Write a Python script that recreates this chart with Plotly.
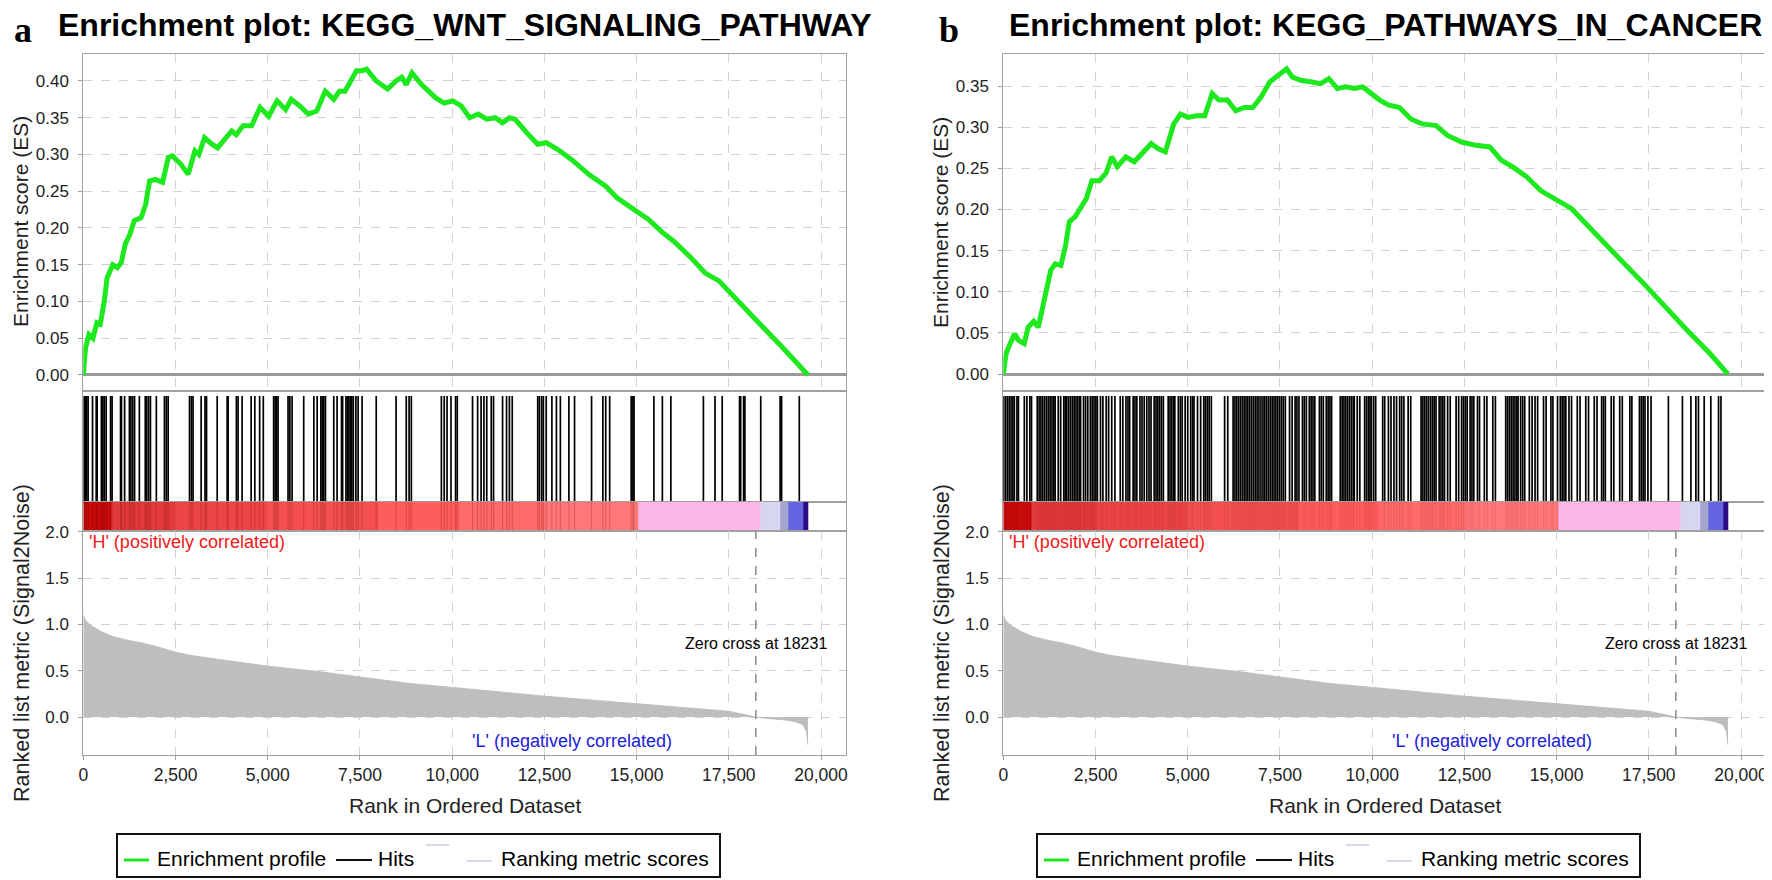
import plotly.graph_objects as go

W, H = 1772, 880
PAGE_MARGIN = 8  # the browser's default body margin shifts the figure by this much

# ------------------------------------------------------------------ data
rank_ticks = [0, 2500, 5000, 7500, 10000, 12500, 15000, 17500, 20000]
rank_max = 20676
n_genes = 19645
zero_cross = 18231

# ranked list metric (Signal2Noise)
metric_rank = [0, 50, 200, 500, 800, 1200, 1600, 2000, 2500, 3000, 3900, 5000,
               6400, 7500, 8800, 10000, 11300, 12500, 13900, 15000, 16400, 17500,
               18231, 18400, 19000, 19300, 19500, 19600, 19645]
metric_value = [1.10, 1.05, 0.99, 0.92, 0.87, 0.83, 0.80, 0.76, 0.70, 0.66, 0.61, 0.55,
                0.49, 0.43, 0.365, 0.32, 0.27, 0.226, 0.18, 0.146, 0.10, 0.062,
                0.0, -0.01, -0.03, -0.05, -0.08, -0.15, -0.30]

# colour bands of the ranked-list heat strip
band_edges = [0, 750, 2500, 5000, 8000, 10200, 12500, 15040, 18350, 18890, 19100, 19510, 19645]
band_colors = ["#c80a0a", "#e23a3a", "#ec4545", "#f45050", "#ff5c5c", "#ff6a6a",
               "#ff7878", "#f9b6e6", "#d6d6f0", "#a4a4cc", "#6464e0", "#2c0c84"]

# panel a: KEGG_WNT_SIGNALING_PATHWAY
es_a_rank = [0, 61, 154, 261, 369, 461, 568, 645, 799, 922, 1029, 1137, 1260, 1382, 1567,
             1690, 1797, 1951, 2150, 2304, 2412, 2642, 2842, 3026, 3133, 3287, 3487, 3640,
             3871, 4024, 4147, 4332, 4562, 4792, 5023, 5253, 5484, 5637, 5868, 6098, 6328,
             6559, 6789, 6943, 7096, 7250, 7404, 7557, 7680, 7941, 8248, 8479, 8633, 8755,
             8909, 9170, 9554, 9784, 10015, 10245, 10476, 10706, 10937, 11167, 11366,
             11551, 11704, 12012, 12319, 12549, 12856, 13240, 13701, 14162, 14469, 14930,
             15314, 15698, 16005, 16466, 16850, 17234, 17695, 18309, 18924, 19384, 19645]
es_a_value = [0.0, 0.037, 0.055, 0.05, 0.071, 0.069, 0.10, 0.132, 0.15, 0.146, 0.153, 0.178,
              0.191, 0.21, 0.214, 0.232, 0.264, 0.266, 0.262, 0.296, 0.298, 0.287, 0.273,
              0.305, 0.30, 0.323, 0.314, 0.309, 0.323, 0.332, 0.327, 0.339, 0.339, 0.364,
              0.352, 0.373, 0.361, 0.375, 0.366, 0.355, 0.359, 0.386, 0.375, 0.386, 0.386,
              0.40, 0.414, 0.414, 0.416, 0.40, 0.389, 0.40, 0.405, 0.395, 0.411, 0.395,
              0.377, 0.37, 0.373, 0.366, 0.35, 0.355, 0.348, 0.35, 0.343, 0.35, 0.348,
              0.33, 0.314, 0.316, 0.307, 0.293, 0.273, 0.257, 0.241, 0.225, 0.212, 0.194,
              0.182, 0.16, 0.139, 0.128, 0.103, 0.071, 0.039, 0.0145, 0.0]
hits_a = [20, 50, 90, 130, 250, 350, 375, 490, 530, 570, 620, 740, 780, 1010, 1035, 1120,
          1250, 1290, 1340, 1390, 1520, 1680, 1720, 1770, 1820, 1980, 2200, 2250, 2300,
          2880, 2930, 2975, 3195, 3300, 3340, 3630, 3900, 3925, 4150, 4195, 4305, 4550,
          4650, 4780, 4880, 5160, 5200, 5240, 5280, 5550, 5600, 5660, 5975, 6250, 6340,
          6440, 6480, 6520, 6565, 6790, 6880, 7000, 7030, 7120, 7160, 7200, 7240, 7280,
          7320, 7390, 7450, 7557, 7941, 8479, 8755, 8832, 8893, 9707, 9784, 9861, 9968,
          10092, 10138, 10552, 10690, 10783, 10860, 10937, 11059, 11121, 11366, 11474,
          11551, 11628, 12319, 12365, 12426, 12472, 12549, 12703, 12826, 12933, 13164,
          13317, 13778, 14085, 14162, 14269, 14853, 14899, 14930, 15468, 15698, 15928,
          16810, 17125, 17320, 17790, 17820, 17900, 17935, 18365, 18890, 18930, 19410]
es_a_ticks = [0.0, 0.05, 0.10, 0.15, 0.20, 0.25, 0.30, 0.35, 0.40]

# panel b: KEGG_PATHWAYS_IN_CANCER
es_b_rank = [0, 77, 184, 306, 413, 566, 673, 826, 949, 1071, 1178, 1285, 1408, 1561, 1683,
             1790, 1943, 2096, 2249, 2402, 2601, 2785, 2938, 3091, 3320, 3550, 3779, 4009,
             4192, 4391, 4621, 4804, 5003, 5233, 5462, 5661, 5845, 6074, 6304, 6533, 6763,
             6992, 7222, 7451, 7681, 7834, 8063, 8369, 8599, 8828, 9058, 9287, 9517, 9746,
             9976, 10205, 10435, 10741, 11047, 11353, 11735, 12041, 12424, 12806, 13189,
             13495, 13801, 14183, 14566, 15025, 15407, 15790, 16249, 16708, 17320, 17932,
             18544, 19156, 19645]
es_b_value = [0.0, 0.025, 0.037, 0.049, 0.041, 0.037, 0.057, 0.064, 0.057, 0.082, 0.11,
              0.126, 0.134, 0.132, 0.155, 0.185, 0.191, 0.203, 0.213, 0.235, 0.235, 0.244,
              0.264, 0.252, 0.264, 0.258, 0.27, 0.28, 0.274, 0.27, 0.304, 0.316, 0.312,
              0.314, 0.314, 0.341, 0.333, 0.333, 0.32, 0.324, 0.324, 0.337, 0.355, 0.363,
              0.371, 0.361, 0.357, 0.355, 0.353, 0.359, 0.347, 0.349, 0.347, 0.349, 0.341,
              0.333, 0.327, 0.324, 0.31, 0.304, 0.302, 0.29, 0.282, 0.278, 0.276, 0.26,
              0.252, 0.24, 0.223, 0.211, 0.201, 0.183, 0.161, 0.14, 0.112, 0.082, 0.053,
              0.025, 0.0]
hits_b = [10, 60, 110, 160, 210, 260, 300, 370, 410, 570, 640, 720, 765,
          920, 970, 1020, 1070, 1120, 1170, 1220, 1270, 1320, 1370, 1405, 1490, 1555,
          1640, 1680, 1720, 1770, 1820, 1870, 1920, 1970, 2020, 2070, 2095, 2175, 2230,
          2290, 2360, 2410, 2460, 2510, 2550, 2635, 2700, 2790, 2855, 2940, 3025, 3170,
          3240, 3325, 3380, 3425, 3520, 3570, 3620, 3705, 3760, 3820, 3890, 3950, 4005,
          4090, 4140, 4190, 4240, 4290, 4340, 4470, 4520, 4570, 4620, 4650, 4745, 4800,
          4850, 4930, 5000, 5080, 5130, 5170, 5265, 5350, 5435, 5480, 5530, 5580, 5640,
          6000, 6085, 6230, 6280, 6330, 6380, 6430, 6480, 6530, 6580, 6630, 6680, 6730,
          6780, 6830, 6880, 6930, 6985, 7040, 7090, 7140, 7190, 7240, 7290, 7340, 7390,
          7440, 7490, 7540, 7590, 7645, 7760, 7830, 7910, 7960, 8015, 8110, 8160, 8215,
          8295, 8345, 8395, 8445, 8570, 8620, 8675, 8755, 8805, 8855, 8900, 9135, 9185,
          9235, 9285, 9335, 9385, 9435, 9485, 9515, 9595, 9665, 9795, 9845, 9895, 9940,
          9980, 10040, 10095, 10285, 10340, 10440, 10510, 10590, 10660, 10745, 10800,
          10860, 10975, 11045, 11325, 11375, 11425, 11475, 11525, 11580, 11630, 11680,
          11730, 11815, 11865, 11915, 11960, 12045, 12115, 12275, 12345, 12425, 12475,
          12525, 12575, 12655, 12705, 12755, 12855, 12910, 13040, 13110, 13270, 13340,
          13620, 13670, 13720, 13770, 13820, 13870, 13920, 13955, 14025, 14080, 14135,
          14260, 14335, 14415, 14485, 14645, 14715, 14845, 14900, 15025, 15100, 15150,
          15200, 15250, 15335, 15405, 15560, 15635, 15790, 15865, 16020, 16095, 16220,
          16270, 16320, 16480, 16550, 16710, 16780, 16985, 17040, 17245, 17295, 17345,
          17395, 17475, 17560, 18030, 18410, 18640, 18775, 18845, 19000, 19180, 19390, 19455]
es_b_ticks = [0.0, 0.05, 0.10, 0.15, 0.20, 0.25, 0.30, 0.35]

metric_ticks = [0.0, 0.5, 1.0, 1.5, 2.0]

panels = [
    dict(dx=0, label="a", label_x=22.5, stripe_alpha=0.22,
         title="Enrichment plot: KEGG_WNT_SIGNALING_PATHWAY",
         es_r=es_a_rank, es_v=es_a_value, hits=hits_a,
         es_range=[-0.0218, 0.4367], es_ticks=es_a_ticks),
    dict(dx=920, label="b", label_x=949, stripe_alpha=0.10,
         title="Enrichment plot: KEGG_PATHWAYS_IN_CANCER",
         es_r=es_b_rank, es_v=es_b_value, hits=hits_b,
         es_range=[-0.0206, 0.389], es_ticks=es_b_ticks),
]

# ------------------------------------------------------------------ helpers
def fx(p):
    return (p - PAGE_MARGIN) / W


def fy(p):
    return 1 - (p - PAGE_MARGIN) / H


def ax_id(letter, i):
    return letter if i == 1 else f"{letter}{i}"


def ax_key(letter, i):
    return f"{letter}axis" if i == 1 else f"{letter}axis{i}"


def note(px, py, text, size, color="black", xanchor="center", family=None, **kw):
    return dict(x=fx(px), y=fy(py), xref="paper", yref="paper", xanchor=xanchor,
                yanchor="middle", text=text, showarrow=False,
                font=dict(size=size, color=color, family=family or FONT), **kw)


FONT = "Liberation Sans, Arial, sans-serif"
GREEN = "#1ee81e"
BORDER = "#a0a0a0"
GRID = "#d2d2d2"

fig = go.Figure()
layout = dict(width=W, height=H, margin=dict(l=0, r=0, t=0, b=0, autoexpand=False),
              paper_bgcolor="white", plot_bgcolor="white", showlegend=False,
              font=dict(family=FONT, color="black"))
annotations = []
shapes = []

# vertical layout of the four stacked panels (pixel rows)
ES_TOP, ES_BOT = 54, 391
HIT_BOT = 502
HEAT_BOT = 531
MET_BOT = 755

nb = len(band_colors)
heat_scale = [[j / (nb - 1), c] for j, c in enumerate(band_colors)]

for k, p in enumerate(panels):
    dx = p["dx"]
    x_dom = [fx(83.3 + dx), fx(846 + dx)]
    base = 4 * k + 1
    ids = list(range(base, base + 4))
    xs = [ax_id("x", i) for i in ids]
    ys = [ax_id("y", i) for i in ids]
    doms = [[fy(ES_BOT), fy(ES_TOP)], [fy(HIT_BOT), fy(ES_BOT)],
            [fy(HEAT_BOT), fy(HIT_BOT)], [fy(MET_BOT), fy(HEAT_BOT)]]

    # --- enrichment score
    fig.add_trace(go.Scatter(x=p["es_r"], y=p["es_v"], mode="lines",
                             line=dict(color=GREEN, width=5),
                             xaxis=xs[0], yaxis=ys[0], hoverinfo="skip"))
    # --- hits
    hx, hy = [], []
    for h in p["hits"]:
        hx += [h, h, None]
        hy += [0, 0.955, None]
    fig.add_trace(go.Scatter(x=hx, y=hy, mode="lines",
                             line=dict(color="black", width=1.7),
                             xaxis=xs[1], yaxis=ys[1], hoverinfo="skip"))
    # --- heat strip
    fig.add_trace(go.Heatmap(x=band_edges, y=[0, 1], z=[list(range(nb))],
                             colorscale=heat_scale, zmin=0, zmax=nb - 1,
                             showscale=False, hoverinfo="skip",
                             xaxis=xs[2], yaxis=ys[2]))
    sx, sy = [], []
    for h in p["hits"]:
        if h < band_edges[7]:
            sx += [h, h, None]
            sy += [0, 1, None]
    fig.add_trace(go.Scatter(x=sx, y=sy, mode="lines",
                             line=dict(color=f"rgba(110,0,0,{p['stripe_alpha']})", width=1.2),
                             xaxis=xs[2], yaxis=ys[2], hoverinfo="skip"))
    # --- ranked list metric
    fig.add_trace(go.Scatter(x=metric_rank, y=metric_value, mode="lines",
                             fill="tozeroy", fillcolor="#bebebe",
                             line=dict(color="#bebebe", width=1),
                             xaxis=xs[3], yaxis=ys[3], hoverinfo="skip"))

    common_x = dict(domain=x_dom, range=[0, rank_max], showline=True, mirror=True,
                    linecolor=BORDER, linewidth=1, zeroline=False, tickvals=rank_ticks,
                    automargin=False)
    layout[ax_key("x", ids[0])] = dict(common_x, anchor=ys[0], showgrid=True,
                                       gridcolor=GRID, griddash="dash",
                                       showticklabels=False, ticks="")
    layout[ax_key("y", ids[0])] = dict(domain=doms[0], range=p["es_range"], anchor=xs[0],
                                       tickvals=p["es_ticks"], tickformat=".2f",
                                       ticks="outside", ticklen=4, tickcolor=BORDER,
                                       tickfont=dict(size=17, color="#222"),
                                       ticklabelstandoff=6, automargin=False,
                                       showgrid=True, gridcolor=GRID, griddash="dash",
                                       showline=True, mirror=True, linecolor=BORDER,
                                       zeroline=True, zerolinecolor="#9a9a9a",
                                       zerolinewidth=2.5)
    for j in (1, 2):
        layout[ax_key("x", ids[j])] = dict(common_x, anchor=ys[j], showgrid=False,
                                           showticklabels=False, ticks="")
        layout[ax_key("y", ids[j])] = dict(domain=doms[j], range=[0, 1], anchor=xs[j],
                                           showgrid=False, showticklabels=False,
                                           ticks="", showline=True, mirror=True,
                                           linecolor=BORDER, zeroline=False,
                                           automargin=False)
    layout[ax_key("x", ids[3])] = dict(common_x, anchor=ys[3], showgrid=True,
                                       gridcolor=GRID, griddash="dash",
                                       tickformat=",d", ticks="outside", ticklen=4,
                                       tickcolor=BORDER,
                                       tickfont=dict(size=17.5, color="#222"))
    layout[ax_key("y", ids[3])] = dict(domain=doms[3], range=[-0.41, 2.01], anchor=xs[3],
                                       tickvals=metric_ticks, tickformat=".1f",
                                       ticks="outside", ticklen=4, tickcolor=BORDER,
                                       tickfont=dict(size=17, color="#222"),
                                       ticklabelstandoff=6, automargin=False,
                                       showgrid=True, gridcolor=GRID, griddash="dash",
                                       showline=True, mirror=True, linecolor=BORDER,
                                       zeroline=False)

    # zero-cross marker
    shapes.append(dict(type="line", xref=xs[3], yref=f"{ys[3]} domain",
                       x0=zero_cross, x1=zero_cross, y0=0, y1=1,
                       line=dict(color="#8a8a8a", width=1.5, dash="dash")))
    annotations.append(dict(x=zero_cross, y=0.80, xref=xs[3], yref=ys[3],
                            xanchor="center", yanchor="middle",
                            text=f"Zero cross at {zero_cross}", showarrow=False,
                            font=dict(size=16, color="black", family=FONT)))
    annotations.append(dict(x=100, y=1.89, xref=xs[3], yref=ys[3], xanchor="left",
                            yanchor="middle",
                            text="'H' (positively correlated)", showarrow=False,
                            font=dict(size=18, color="#f01818", family=FONT)))
    annotations.append(dict(x=13250, y=-0.26, xref=xs[3], yref=ys[3],
                            xanchor="center", yanchor="middle",
                            text="'L' (negatively correlated)", showarrow=False,
                            font=dict(size=18, color="#2020d8", family=FONT)))

    # titles and axis titles
    annotations.append(note(465 + dx, 25, f"<b>{p['title']}</b>", 32))
    annotations.append(note(p["label_x"], 29.8, f"<b>{p['label']}</b>", 36,
                            family="Liberation Serif, Times New Roman, serif"))
    annotations.append(note(20 + dx, 222, "Enrichment score (ES)", 21, color="#222",
                            textangle=-90))
    annotations.append(note(22 + dx, 643, "Ranked list metric (Signal2Noise)", 21.5,
                            color="#222", textangle=-90))
    annotations.append(note(465 + dx, 805, "Rank in Ordered Dataset", 21, color="#222"))

    # legend box
    shapes.append(dict(type="rect", xref="paper", yref="paper",
                       x0=fx(117 + dx), x1=fx(720 + dx), y0=fy(877), y1=fy(834),
                       line=dict(color="#111", width=2), fillcolor="white"))
    shapes.append(dict(type="line", xref="paper", yref="paper",
                       x0=fx(124 + dx), x1=fx(149 + dx), y0=fy(860), y1=fy(860),
                       line=dict(color=GREEN, width=3)))
    shapes.append(dict(type="line", xref="paper", yref="paper",
                       x0=fx(336 + dx), x1=fx(372 + dx), y0=fy(860), y1=fy(860),
                       line=dict(color="#111", width=2)))
    shapes.append(dict(type="line", xref="paper", yref="paper",
                       x0=fx(426 + dx), x1=fx(449 + dx), y0=fy(845), y1=fy(845),
                       line=dict(color="#c8cce8", width=1.5)))
    shapes.append(dict(type="line", xref="paper", yref="paper",
                       x0=fx(467 + dx), x1=fx(492 + dx), y0=fy(861), y1=fy(861),
                       line=dict(color="#c8cce8", width=1.5)))
    for tx, txt in ((155, "Enrichment profile"), (376, "Hits"), (499, "Ranking metric scores")):
        annotations.append(note(tx + dx, 858, txt, 21, xanchor="left"))

layout["annotations"] = annotations
layout["shapes"] = shapes
fig.update_layout(**layout)
fig.write_html("out.html")
